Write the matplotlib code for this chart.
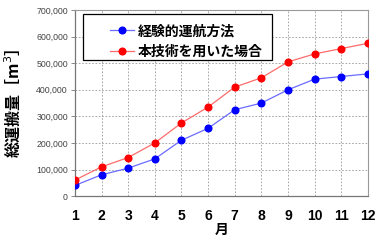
import matplotlib.pyplot as plt
from matplotlib.patches import Rectangle
from matplotlib.ticker import FuncFormatter

plt.rcParams['font.family'] = ['Noto Sans CJK JP', 'DejaVu Sans']

months = [1, 2, 3, 4, 5, 6, 7, 8, 9, 10, 11, 12]
conventional = [40000, 80000, 105000, 140000, 210000, 255000,
                325000, 350000, 400000, 440000, 450000, 460000]
proposed = [60000, 110000, 145000, 200000, 275000, 335000,
            410000, 445000, 505000, 535000, 555000, 575000]
series_names = ['経験的運航方法', '本技術を用いた場合']

fig = plt.figure(figsize=(3.82, 2.40), dpi=100)
ax = fig.add_axes([0.196, 0.183, 0.767, 0.775])

ax.plot(months, conventional, color='#6b6bff', linewidth=0.9,
        marker='o', markersize=4.8, markerfacecolor='#0000ff',
        markeredgecolor='#0000ff', label=series_names[0], zorder=3)
ax.plot(months, proposed, color='#ff6b6b', linewidth=0.9,
        marker='o', markersize=4.8, markerfacecolor='#ff0000',
        markeredgecolor='#ff0000', label=series_names[1], zorder=3)

ax.set_xlim(1, 12)
ax.set_ylim(0, 700000)
ax.set_xticks(months)
ax.set_yticks(range(0, 700001, 100000))
ax.yaxis.set_major_formatter(FuncFormatter(lambda v, p: f'{int(v):,}'))

ax.grid(True, color='#999999', linestyle=(0, (2, 2)), linewidth=0.6)
for s in ['top', 'right']:
    ax.spines[s].set_color('#999999')
    ax.spines[s].set_linewidth(0.8)
for s in ['left', 'bottom']:
    ax.spines[s].set_color('#777777')
    ax.spines[s].set_linewidth(0.9)

ax.tick_params(axis='y', length=3, width=0.6, color='#777777',
               labelsize=6.3, labelcolor='#444444', pad=2)
ax.tick_params(axis='x', length=0, labelsize=10, pad=9)
for t in ax.get_yticklabels():
    t.set_family(['Liberation Sans', 'DejaVu Sans'])
for t in ax.get_xticklabels():
    t.set_family(['Liberation Sans', 'DejaVu Sans'])
    t.set_fontweight('bold')

ax.set_xlabel('月', fontsize=10, fontweight='bold', labelpad=0)
ax.set_ylabel('総運搬量［m$^3$］', fontsize=11.5, fontweight='bold', labelpad=10)

# legend box (wide frame like the original)
ax.add_patch(Rectangle((0.027, 0.731), 0.645, 0.247, transform=ax.transAxes,
                       facecolor='white', edgecolor='black', linewidth=0.9,
                       zorder=4))
leg = ax.legend(loc='upper left', bbox_to_anchor=(0.12, 0.925),
                frameon=False,
                prop={'family': 'Noto Sans CJK JP', 'weight': 'bold', 'size': 10},
                borderpad=0, labelspacing=0.5, handlelength=1.7,
                handletextpad=0.3, borderaxespad=0)
leg.set_zorder(5)

fig.savefig('out.png', dpi=100)
